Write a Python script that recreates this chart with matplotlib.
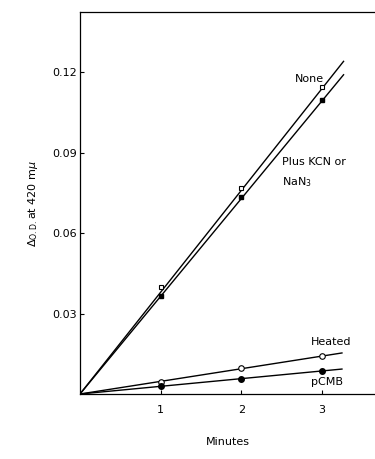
import matplotlib.pyplot as plt

# Valores (minutos vs. cambio de D.O.)
minutes = [1, 2, 3]
none_od = [0.0398, 0.0768, 0.1144]
kcn_od = [0.0365, 0.0734, 0.1096]
heated_od = [0.0045, 0.0097, 0.0142]
pcmb_od = [0.0030, 0.0056, 0.0086]

# Rectas ajustadas: desde el origen hasta el extremo dibujado
none_line = ([0, 3.27], [0, 0.1240])
kcn_line = ([0, 3.27], [0, 0.1190])
heated_line = ([0, 3.25], [0, 0.0153])
pcmb_line = ([0, 3.25], [0, 0.0093])

yticks = [0.03, 0.06, 0.09, 0.12]
xticks = [1, 2, 3]

plt.rcParams['font.family'] = ['DejaVu Sans']

fig = plt.figure(figsize=(3.75, 4.59), dpi=100)
ax = fig.add_axes([0.2133, 0.1416, 0.7867, 0.8323])

for (lx, ly) in [none_line, kcn_line, heated_line, pcmb_line]:
    ax.plot(lx, ly, color='black', linewidth=1.0)

ax.plot(minutes, none_od, 's', ms=3.5, mfc='white', mec='black', mew=0.8)
ax.plot(minutes, kcn_od, 's', ms=3.5, mfc='black', mec='black')
ax.plot(minutes, heated_od, 'o', ms=4, mfc='white', mec='black', mew=0.8)
ax.plot(minutes, pcmb_od, 'o', ms=4, mfc='black', mec='black')

ax.set_xlim(0, 3.66)
ax.set_ylim(0, 0.1424)
ax.set_xticks(xticks)
ax.set_yticks(yticks)
ax.set_xticklabels([str(x) for x in xticks])
ax.set_yticklabels([f'{y:.2f}' for y in yticks])
ax.tick_params(direction='in', length=3, width=0.8, labelsize=8)
ax.tick_params(axis='x', pad=8)
ax.tick_params(axis='y', pad=2)

ax.spines['right'].set_visible(False)
for s in ['top', 'bottom', 'left']:
    ax.spines[s].set_linewidth(0.9)

ax.text(2.67, 0.1174, 'None', fontsize=8, ha='left', va='center')
ax.text(2.51, 0.0865, 'Plus KCN or', fontsize=8, ha='left', va='center')
ax.text(2.51, 0.0790, 'NaN$_3$', fontsize=8, ha='left', va='center')
ax.text(2.86, 0.0194, 'Heated', fontsize=8, ha='left', va='center')
ax.text(2.86, 0.0046, 'pCMB', fontsize=8, ha='left', va='center')

ax.set_ylabel(r'$\Delta_{\mathrm{O.D.}}$at 420 m$\mu$', fontsize=8, labelpad=9)
ax.set_xlabel('Minutes', fontsize=8, labelpad=16)

fig.savefig('out.png', dpi=100)
